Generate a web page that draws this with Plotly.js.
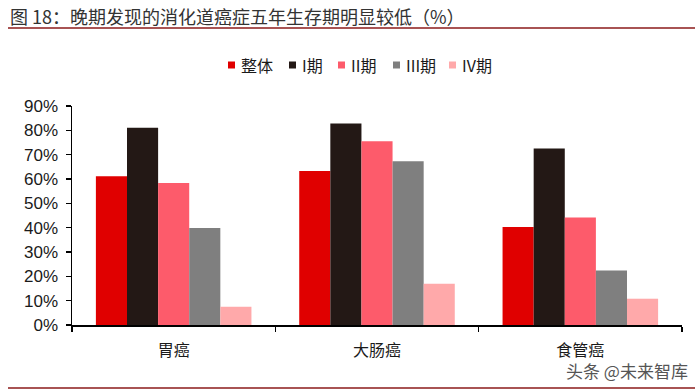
<!DOCTYPE html>
<html><head><meta charset="utf-8">
<script src="https://cdn.plot.ly/plotly-3.0.1.min.js"></script>
<style>html,body{margin:0;padding:0;background:#fff}</style>
</head><body>
<div id="chart" style="width:700px;height:392px"></div>
<script>
const categories = ['胃癌', '大肠癌', '食管癌'];
const seriesNames = ['整体', 'I期', 'II期', 'III期', 'IV期'];
const overall = [61.1, 63.3, 40.3];
const stage1 = [81.1, 82.8, 72.5];
const stage2 = [58.4, 75.5, 44.2];
const stage3 = [39.9, 67.3, 22.4];
const stage4 = [7.5, 17.0, 10.8];
const colors = ['#e00000', '#231815', '#fd5b6b', '#7f7f7f', '#ffa9aa'];
const yTicks = [0, 10, 20, 30, 40, 50, 60, 70, 80, 90];

const seriesValues = [overall, stage1, stage2, stage3, stage4];
const traces = seriesValues.map((vals, i) => ({
  type: 'bar', name: seriesNames[i], x: categories, y: vals,
  marker: {color: colors[i]}, hoverinfo: 'skip', showlegend: false
}));

// plot area geometry (px) used to place legend/title decorations
const PL = 72, PW = 610, PB = 325, PH = 219;
const px = x => (x - PL) / PW;
const py = y => (PB - y) / PH;
const legendLeft = [228, 289, 338, 393, 449];

const font = "Liberation Sans, Arial, 'Noto Sans CJK SC', sans-serif";
const cjk = "'Noto Sans CJK SC', sans-serif";
const annotations = [
  {text: '图 18：晚期发现的消化道癌症五年生存期明显较低（%）', xref: 'paper', yref: 'paper',
   x: px(8), y: py(16), xanchor: 'left', yanchor: 'middle', showarrow: false,
   font: {size: 18, color: '#333333', family: cjk}},
  {text: '头条 @未来智库', xref: 'paper', yref: 'paper', x: px(690), y: py(370),
   xanchor: 'right', yanchor: 'middle', showarrow: false,
   font: {size: 17, color: '#555555', family: cjk}}
];
const shapes = [
  {type: 'line', xref: 'paper', yref: 'paper', x0: px(8), x1: px(695), y0: py(28), y1: py(28),
   line: {color: '#8b1a1a', width: 1.5}},
  {type: 'line', xref: 'paper', yref: 'paper', x0: px(8), x1: px(695), y0: py(388), y1: py(388),
   line: {color: '#8b1a1a', width: 1.5}}
];
seriesNames.forEach((name, i) => {
  const lx = legendLeft[i];
  shapes.push({type: 'rect', xref: 'paper', yref: 'paper', x0: px(lx), x1: px(lx + 7),
    y0: py(68.5), y1: py(61.5), fillcolor: colors[i], line: {width: 0}});
  annotations.push({text: name, xref: 'paper', yref: 'paper', x: px(lx + 11), y: py(65),
    xanchor: 'left', yanchor: 'middle', showarrow: false,
    font: {size: 16, color: '#1a1a1a', family: cjk}});
});

const layout = {
  width: 700, height: 392,
  margin: {l: PL, r: 700 - PL - PW, t: PB - PH, b: 392 - PB},
  paper_bgcolor: '#ffffff', plot_bgcolor: '#ffffff',
  font: {family: font, color: '#1a1a1a', size: 15},
  barmode: 'group', bargap: 0.235, bargroupgap: 0,
  showlegend: false,
  xaxis: {type: 'category', showline: true, linecolor: '#000', linewidth: 1.5,
    ticks: 'outside', tickson: 'boundaries', ticklen: 5, tickcolor: '#000', tickwidth: 1.5,
    ticklabelstandoff: 10,
    tickfont: {size: 16, color: '#1a1a1a', family: cjk}, showgrid: false, zeroline: false, fixedrange: true},
  yaxis: {range: [0, 90], tickvals: yTicks, ticktext: yTicks.map(v => v + '%'),
    showline: true, linecolor: '#000', linewidth: 1.5, ticks: 'outside', ticklen: 5,
    ticklabelstandoff: 4,
    tickcolor: '#000', tickwidth: 1.5, showgrid: false, zeroline: false,
    tickfont: {size: 17, color: '#1a1a1a'}, fixedrange: true},
  annotations: annotations,
  shapes: shapes
};
Plotly.newPlot('chart', traces, layout, {displayModeBar: false, staticPlot: true});
</script>
</body></html>
